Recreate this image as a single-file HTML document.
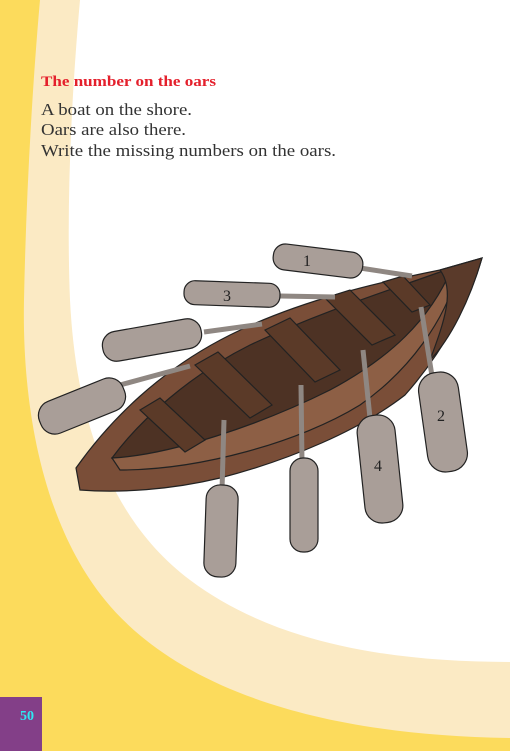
<!DOCTYPE html>
<html><head><meta charset="utf-8"><style>
html,body{margin:0;padding:0;width:510px;height:751px;overflow:hidden;background:#fff}
svg{display:block}
</style></head><body>
<svg width="510" height="751" viewBox="0 0 510 751">
<rect x="0" y="0" width="510" height="751" fill="#ffffff"/>
<path fill="#fbeac4" d="M0,0 L80,0 C72,90 66,200 70,300 C76,420 110,520 190,580 C270,640 380,662 510,662 L510,751 L0,751 Z"/>
<path fill="#fcdb5c" d="M0,0 L40,0 C32,90 26,200 24,300 C22,400 40,520 105,600 C170,680 300,735 510,738 L510,751 L0,751 Z"/>
<rect x="0" y="697" width="42" height="54" fill="#833f88"/>
<text x="20" y="720" font-family="Liberation Serif, serif" font-weight="bold" font-size="14" fill="#2ee8f2">50</text>

<text x="41" y="86" font-family="Liberation Serif, serif" font-weight="bold" font-size="15" fill="#e4202c" textLength="175" lengthAdjust="spacingAndGlyphs">The number on the oars</text>
<g font-family="Liberation Serif, serif" font-size="17" fill="#333">
<text x="41" y="115" textLength="151" lengthAdjust="spacingAndGlyphs">A boat on the shore.</text>
<text x="41" y="135" textLength="145" lengthAdjust="spacingAndGlyphs">Oars are also there.</text>
<text x="41" y="156" textLength="295" lengthAdjust="spacingAndGlyphs">Write the missing numbers on the oars.</text>
</g>

<g stroke="#222" stroke-width="1.2">
<path fill="#7a4e38" d="M76,468 C110,420 160,370 230,335 C300,300 380,282 440,270 L482,258 C470,300 445,350 405,395 C360,430 290,460 220,478 C170,490 120,493 80,490 Z"/>
<path fill="#4d3224" d="M112,458 C140,420 190,375 250,345 C320,312 390,290 440,272 L452,268 C445,300 420,330 380,360 C330,395 260,425 190,445 C160,453 135,458 112,458 Z"/>
<path fill="#8d5f45" d="M112,458 C170,455 260,425 330,390 C390,358 430,320 452,268 L458,272 C445,320 410,370 360,405 C300,442 200,470 120,470 Z"/>
<path fill="#5a3a2a" d="M440,270 L482,258 C470,300 450,340 430,360 C445,320 455,290 440,270 Z"/>
<g fill="#5b3a28">
<polygon points="140,410 160,398 205,440 185,452"/>
<polygon points="195,365 218,352 272,405 250,418"/>
<polygon points="265,330 290,318 340,370 315,382"/>
<polygon points="325,298 350,290 395,335 372,345"/>
<polygon points="383,282 403,276 430,305 412,312"/>
</g>
</g>

<g stroke="#222" stroke-width="1.2">
<g>
<line x1="360" y1="268" x2="412" y2="276" stroke="#8f8782" stroke-width="5"/>
<line x1="280" y1="296" x2="335" y2="297" stroke="#8f8782" stroke-width="5"/>
<line x1="204" y1="332" x2="262" y2="324" stroke="#8f8782" stroke-width="5"/>
<line x1="120" y1="385" x2="190" y2="366" stroke="#8f8782" stroke-width="5"/>
<line x1="224" y1="420" x2="222" y2="490" stroke="#8f8782" stroke-width="5"/>
<line x1="301" y1="385" x2="302" y2="462" stroke="#8f8782" stroke-width="5"/>
<line x1="363" y1="350" x2="370" y2="418" stroke="#8f8782" stroke-width="5"/>
<line x1="421" y1="307" x2="432" y2="376" stroke="#8f8782" stroke-width="5"/>
</g>
<g fill="#a99e98">
<rect x="-45" y="-13" width="90" height="26" rx="12" transform="translate(318,261) rotate(7)"/>
<rect x="-48" y="-12" width="96" height="24" rx="11" transform="translate(232,294) rotate(2)"/>
<rect x="-50" y="-15" width="100" height="30" rx="14" transform="translate(152,340) rotate(-10)"/>
<rect x="-45" y="-17" width="90" height="34" rx="15" transform="translate(82,406) rotate(-22)"/>
<rect x="-16" y="-46" width="32" height="92" rx="14" transform="translate(221,531) rotate(2)"/>
<rect x="-14" y="-47" width="28" height="94" rx="13" transform="translate(304,505)"/>
<rect x="-19" y="-54" width="38" height="108" rx="17" transform="translate(380,469) rotate(-6)"/>
<rect x="-20" y="-50" width="40" height="100" rx="18" transform="translate(443,422) rotate(-8)"/>
</g>
</g>
<g font-family="Liberation Serif, serif" font-size="16" fill="#222" text-anchor="middle">
<text x="307" y="266">1</text>
<text x="227" y="301">3</text>
<text x="441" y="421">2</text>
<text x="378" y="471">4</text>
</g>
</svg>
</body></html>
